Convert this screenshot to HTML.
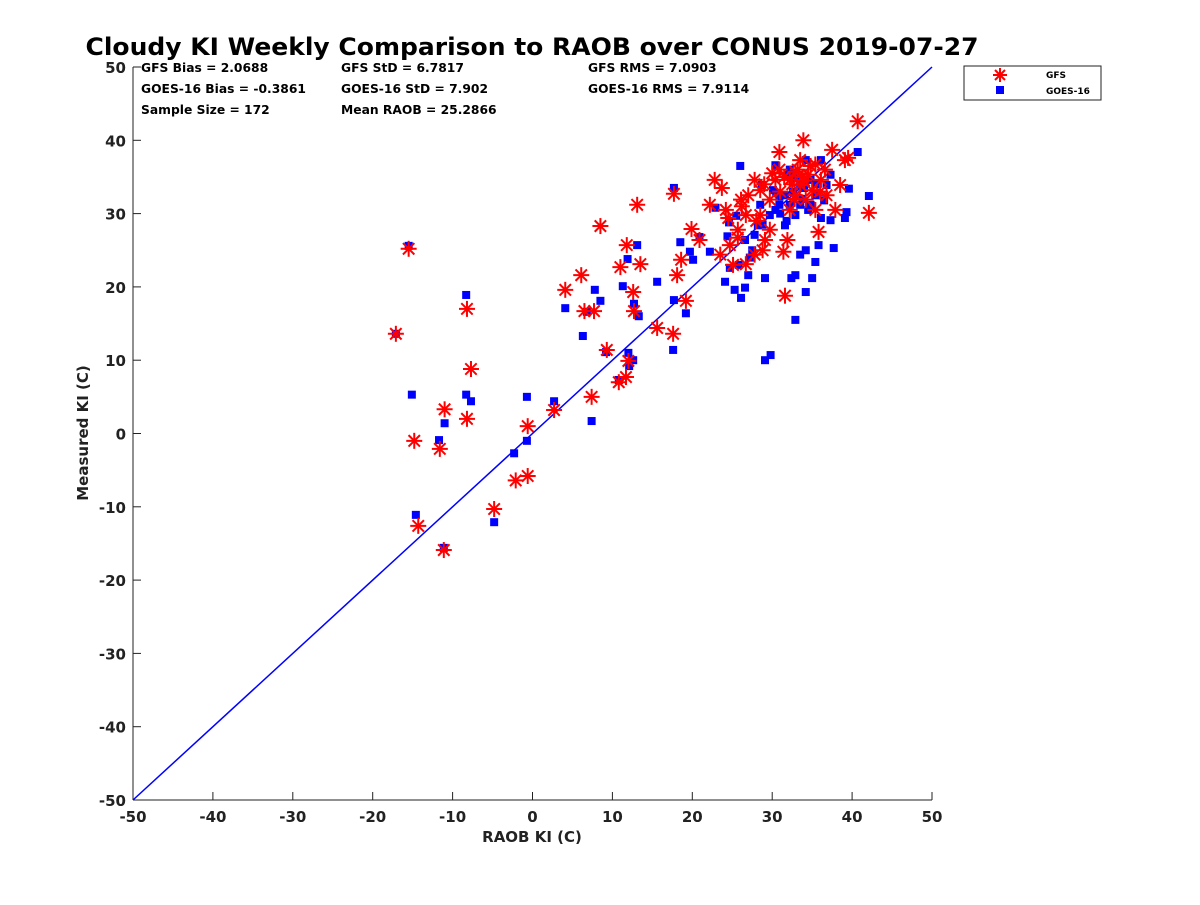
<!DOCTYPE html>
<html><head><meta charset="utf-8"><style>
body{margin:0;background:#fff;}
svg text{font-family:"DejaVu Sans","Liberation Sans",sans-serif;font-weight:bold;fill:#222;}
</style></head><body>
<svg id="chart" width="1200" height="900" viewBox="0 0 1200 900" xmlns="http://www.w3.org/2000/svg">
<rect width="1200" height="900" fill="#fff"/>
<text x="532" y="55" font-size="24" text-anchor="middle" textLength="893" lengthAdjust="spacingAndGlyphs" style="fill:#000">Cloudy KI Weekly Comparison to RAOB over CONUS 2019-07-27</text>
<g id="stats" font-size="12.3">
<text x="141" y="72" style="fill:#000">GFS Bias = 2.0688</text>
<text x="141" y="93" style="fill:#000">GOES-16 Bias = -0.3861</text>
<text x="141" y="114" style="fill:#000">Sample Size = 172</text>
<text x="341" y="72" style="fill:#000">GFS StD = 6.7817</text>
<text x="341" y="93" style="fill:#000">GOES-16 StD = 7.902</text>
<text x="341" y="114" style="fill:#000">Mean RAOB = 25.2866</text>
<text x="588" y="72" style="fill:#000">GFS RMS = 7.0903</text>
<text x="588" y="93" style="fill:#000">GOES-16 RMS = 7.9114</text>
</g>
<g id="axes"></g>
<g id="marks"></g>
<g>
<rect x="964" y="66" width="137" height="34" fill="#fff" stroke="#222" stroke-width="1"/>
<g>
<g stroke="#f00" stroke-width="2"><line x1="1000" y1="68" x2="1000" y2="82"/><line x1="993" y1="75" x2="1007" y2="75"/><line x1="995" y1="70" x2="1005" y2="80"/><line x1="995" y1="80" x2="1005" y2="70"/></g>
<text x="1046" y="78" font-size="9" style="fill:#000">GFS</text></g>
<g>
<rect x="996" y="86" width="8" height="8" fill="#00f"/>
<text x="1046" y="94" font-size="9" style="fill:#000">GOES-16</text></g>
</g>
</svg>
<script>
const ticks=[-50,-40,-30,-20,-10,0,10,20,30,40,50];
const gfsX=[-15.5,-17.1,-8.2,-7.7,-11,-14.8,-11.6,-8.2,-14.3,-11.1,-4.8,-2.1,-0.6,-0.6,2.7,7.4,9.3,10.8,11.7,12,4.1,6.1,6.5,7.7,8.5,11,11.8,13.5,13.1,12.6,12.7,15.6,17.6,18.1,18.6,19.2,17.7,19.9,20.9,22.2,22.8,23.7,24.5,23.5,24.7,25.7,26.1,27,27.8,26.7,26.7,28.5,28.8,29.1,29.7,30.4,30.9,31.4,31.9,31.6,32.2,32.9,33.5,33.9,34.5,35,35.4,35.8,36.6,37.5,37.9,38.5,39.1,39.5,40.7,42.1,32.9,33.5,29.7,25.7,28.5,34.2,36.1,30.9,32.2,35.4,36.8,27.8,25.1,31.5,32.5,33.2,34,34.8,31,30,29,36,33.8,32.8,24.2,26.2,28];
const gfsY=[25.2,13.6,17,8.8,3.3,-1,-2.1,2,-12.6,-15.9,-10.3,-6.4,-5.8,1,3.2,5,11.4,7,7.7,9.9,19.6,21.6,16.7,16.7,28.3,22.7,25.7,23.1,31.2,19.3,16.7,14.4,13.6,21.6,23.7,18.1,32.7,27.9,26.4,31.2,34.6,33.5,29.4,24.4,25.7,26.7,31.9,32.5,34.6,29.8,23.1,33.2,25,26.4,31.9,34.6,38.4,24.8,26.4,18.8,34.6,35.7,37.3,40,35.3,33.2,30.5,27.5,36,38.7,30.5,33.9,37.3,37.6,42.6,30.1,32.5,33.9,27.8,27.8,29.8,31.9,34.6,36,30.5,36.7,32.5,24.4,23,35,34,36,34.5,36.5,33,35.5,34,33,35,32,30.5,31,29];
const goesX=[-15.5,-17.1,-8.3,-15.1,-8.3,-7.7,-11,-11.7,-14.6,-11.1,-4.8,-2.3,-0.7,-0.7,2.7,7.4,4.1,6.3,6.8,7.8,8.5,9.2,10.8,12,12.1,11.3,11.9,12.6,12.7,13.3,13.1,15.6,17.6,17.7,17.7,18.5,19.2,19.7,20.1,20.9,22.2,22.9,24.4,24.1,24.7,25.3,25.5,26,26.1,26.6,27,27.5,28.2,28.7,29.1,29.1,29.8,30.4,30.9,32.2,32.4,32.9,32.9,33.5,34.2,34.2,35,35.4,35.8,36.1,37.3,37.7,39.1,39.3,39.6,40.7,42.1,30.4,31.6,33.5,34.8,32.2,34.2,36.1,30.9,32.9,34.8,36.8,37.3,29.7,28.5,27.8,26.6,35.4,33.5,31.6,30.1,32,31,32.6,33.8,34.5,35.5,30.5,31.8,33,34,36.5,28.8,27.2,25.8,24.6];
const goesY=[25.6,13.6,18.9,5.3,5.3,4.4,1.4,-0.9,-11.1,-15.6,-12.1,-2.7,-1,5,4.4,1.7,17.1,13.3,16.6,19.6,18.1,11.1,7.3,11,9.2,20.1,23.8,10,17.7,16,25.7,20.7,11.4,18.2,33.5,26.1,16.4,24.8,23.7,26.8,24.8,30.8,26.9,20.7,22.6,19.6,29.7,36.5,18.5,19.9,21.6,25,28.4,33.9,21.2,10,10.7,30.5,32.3,31.2,21.2,21.6,15.5,24.4,25,19.3,21.2,23.4,25.7,29.4,29.1,25.3,29.4,30.2,33.4,38.4,32.4,36.6,32.5,33.9,34.6,36,37.3,37.3,31.2,29.8,31.2,33.9,35.3,29.8,31.2,27.1,26.4,32.5,31.2,28.4,33.2,35.3,30,33,32,30.5,34,32.8,29,34.8,33.5,31.8,28.5,24,23,28.8];
const NS="http://www.w3.org/2000/svg";
const X0=133,X1=932,Y0=800,Y1=67;
function sx(v){return X0+(v+50)/100*(X1-X0);}
function sy(v){return Y0-(v+50)/100*(Y0-Y1);}
function mk(tag,attrs,parent){const e=document.createElementNS(NS,tag);for(const k in attrs)e.setAttribute(k,attrs[k]);parent.appendChild(e);return e;}
const ax=document.getElementById('axes');
let l=mk('line',{x1:X0,y1:Y0,x2:X1,y2:Y0,stroke:'#222','stroke-width':1},ax);


l=mk('line',{x1:X0,y1:Y0,x2:X0,y2:Y1,stroke:'#222','stroke-width':1},ax);


ticks.forEach(t=>{
 mk('line',{x1:sx(t),y1:Y0,x2:sx(t),y2:Y0-8,stroke:'#222'},ax);
 mk('line',{x1:X0,y1:sy(t),x2:X0+8,y2:sy(t),stroke:'#222'},ax);
 let tx=mk('text',{x:sx(t),y:Y0+22,'font-size':15,'text-anchor':'middle'},ax);tx.textContent=t;
 
 
 let ty=mk('text',{x:X0-7,y:sy(t)+6,'font-size':15,'text-anchor':'end'},ax);ty.textContent=t;
 
 
});
let xt=mk('text',{x:532,y:842,'font-size':15,'text-anchor':'middle'},ax);xt.textContent='RAOB KI (C)';


let yt=mk('text',{x:88,y:433,'font-size':15,'text-anchor':'middle',transform:'rotate(-90 88 433)'},ax);yt.textContent='Measured KI (C)';


const mg=document.getElementById('marks');
l=mk('line',{x1:sx(-50),y1:sy(-50),x2:sx(50),y2:sy(50),stroke:'#00f','stroke-width':1.5},mg);


goesX.forEach((x,i)=>{
 const r=mk('rect',{x:sx(x)-4,y:sy(goesY[i])-4,width:8,height:8,fill:'#00f'},mg);
 
 
});
gfsX.forEach((x,i)=>{
 const cx=sx(x),cy=sy(gfsY[i]);
 const g=mk('g',{stroke:'#f00','stroke-width':2},mg);
 
 
 mk('line',{x1:cx,y1:cy-8,x2:cx,y2:cy+8},g);
 mk('line',{x1:cx-8,y1:cy,x2:cx+8,y2:cy},g);
 mk('line',{x1:cx-5.7,y1:cy-5.7,x2:cx+5.7,y2:cy+5.7},g);
 mk('line',{x1:cx-5.7,y1:cy+5.7,x2:cx+5.7,y2:cy-5.7},g);
});
</script>
</body></html>
